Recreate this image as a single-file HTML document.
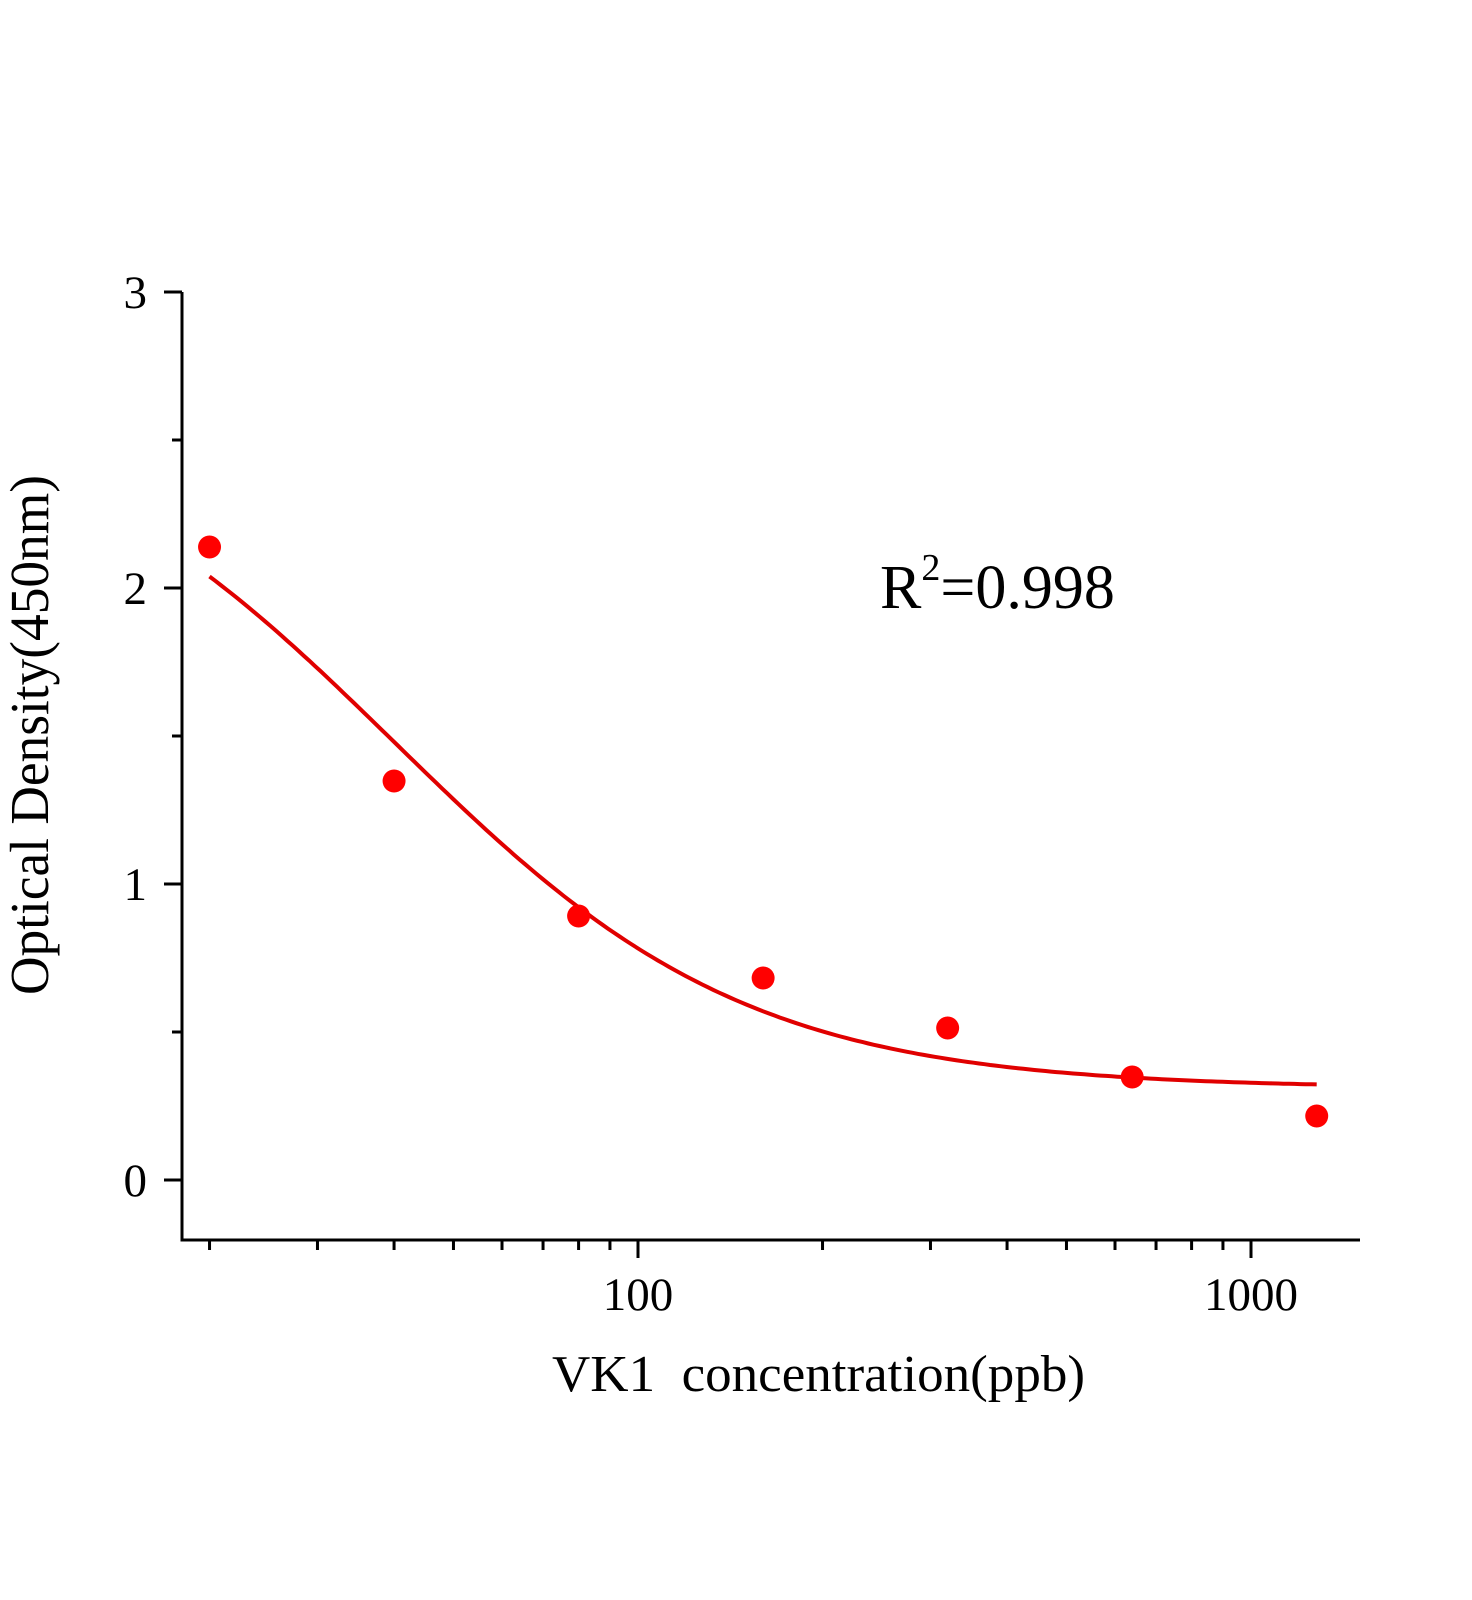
<!DOCTYPE html>
<html><head><meta charset="utf-8"><style>html,body{margin:0;padding:0;background:#fff}svg{display:block}</style></head>
<body>
<svg id="s" width="1472" height="1600" viewBox="0 0 1472 1600" xmlns="http://www.w3.org/2000/svg" font-family="'Liberation Serif', serif">
<rect width="1472" height="1600" fill="#fff"/>
<g id="ax" stroke="#000" stroke-width="3" fill="none">
<path d="M182,292 V1240 H1360"/>
</g>
<g font-size="47" text-anchor="end" fill="#000">
<text x="147" y="308">3</text>
<text x="147" y="604">2</text>
<text x="147" y="900">1</text>
<text x="147" y="1196">0</text>
</g>
<g font-size="47" text-anchor="middle" fill="#000">
<text x="638" y="1310">100</text>
<text x="1251" y="1310">1000</text>
</g>
<text x="552" y="1391" font-size="52" textLength="533" lengthAdjust="spacingAndGlyphs" fill="#000">VK1&#160;&#160;concentration(ppb)</text>
<text transform="translate(48,995) rotate(-90)" font-size="55" textLength="520" lengthAdjust="spacingAndGlyphs" fill="#000">Optical Density(450nm)</text>
<text x="880" y="608" font-size="62" fill="#000">R<tspan font-size="38" dy="-28">2</tspan><tspan dy="28">=0.998</tspan></text>
<path id="curve" fill="none" stroke="#e00000" stroke-width="4"/>
<g id="pts" fill="#f00"></g>
</svg>
<script>
var s=document.getElementById('s'),ns='http://www.w3.org/2000/svg';
function X(v){return 638+613*(Math.log10(v)-2);}
function Y(o){return 1180-296*o;}
var ax=document.getElementById('ax'),d='';
[0,1,2,3].forEach(function(v){d+='M164,'+Y(v)+'H182';});
[0.5,1.5,2.5].forEach(function(v){d+='M172,'+Y(v)+'H182';});
[100,1000].forEach(function(v){d+='M'+X(v)+',1240V1258';});
[20,30,40,50,60,70,80,90,200,300,400,500,600,700,800,900].forEach(function(v){d+='M'+X(v)+',1240V1250';});
var p=document.createElementNS(ns,'path');p.setAttribute('d',d);ax.appendChild(p);
var c='';
for(var i=0;i<=200;i++){var lx=Math.log10(20)+i/200*(Math.log10(1280)-Math.log10(20));var x=Math.pow(10,lx);
var o=0.31+2.34/(1+Math.pow(x/40,1.5));c+=(i?'L':'M')+X(x).toFixed(1)+','+Y(o).toFixed(1);}
document.getElementById('curve').setAttribute('d',c);
var pts=[[20,547],[40,781],[80,916],[160,978],[320,1028],[640,1077],[1280,1116]];
var g=document.getElementById('pts');
pts.forEach(function(q){var e=document.createElementNS(ns,'circle');e.setAttribute('cx',X(q[0]));e.setAttribute('cy',q[1]);e.setAttribute('r',11.5);g.appendChild(e);});
</script>
</body></html>
